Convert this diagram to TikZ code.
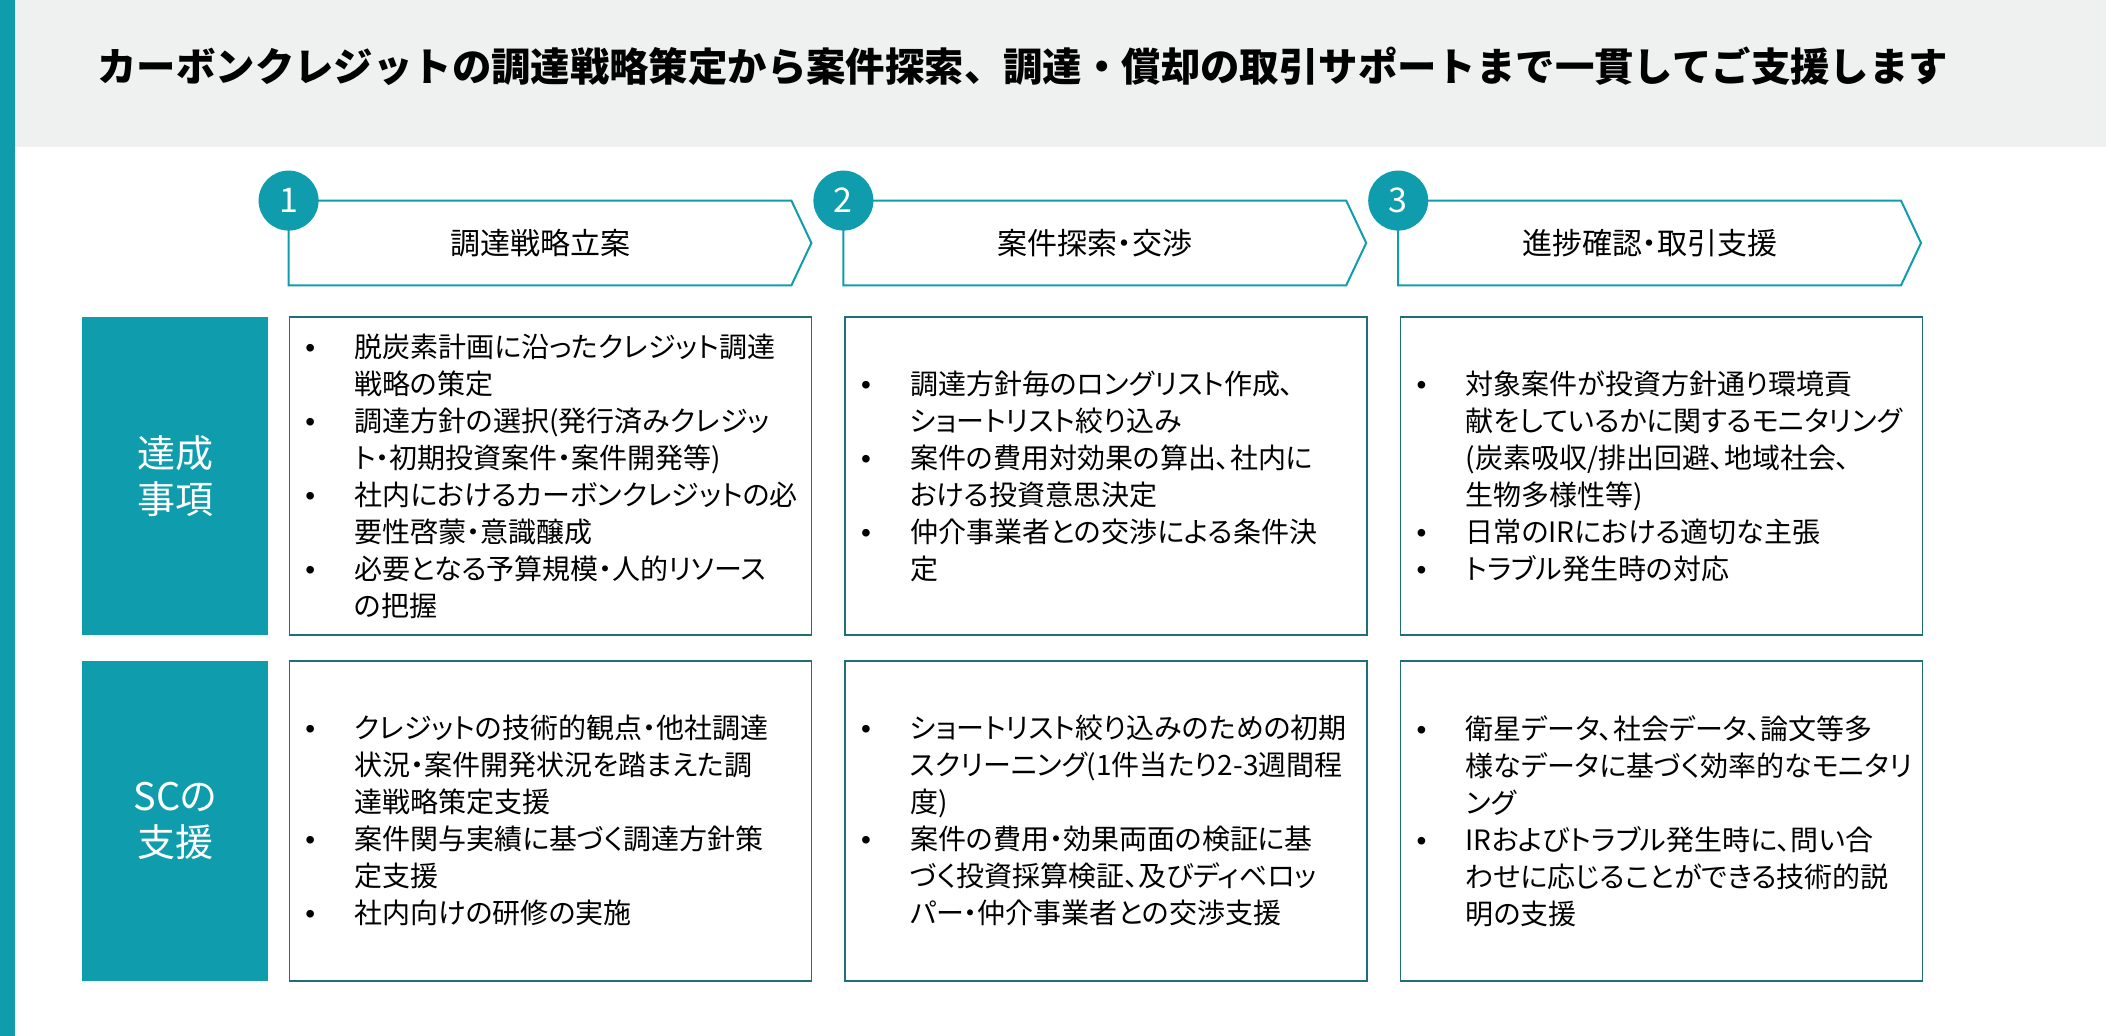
\documentclass[tikz,border=0pt]{standalone}
\usepackage{fontspec}
\setmainfont{Noto Sans CJK JP}[RawFeature=+palt]
\newfontfamily\titlefont{Noto Sans CJK JP}
\newfontfamily\bulletfont{Liberation Sans}
\usetikzlibrary{positioning, calc}
\definecolor{scteal}{HTML}{0F9DAE}
\definecolor{scline}{HTML}{1F6F78}
\definecolor{headgray}{HTML}{EFF1F0}
\newcommand\bulletline[1]{{\let\\\newline\noindent\hangindent=24.5pt\hangafter=1%
  \makebox[24.5pt][l]{\bulletfont •}#1\par}}

\begin{document}
\begin{tikzpicture}[
  x=0.5pt, y=-0.5pt,
  stage/.style={rectangle, inner sep=0pt, minimum width=251pt, minimum height=42pt,
                font=\fontsize{15pt}{18pt}\selectfont},
  stageline/.style={draw=scteal, line width=1pt, line join=miter},
  num/.style={circle, fill=scteal, inner sep=0pt, minimum size=30pt, text=white,
              font=\fontsize{17pt}{20pt}\selectfont},
  cbox/.style={rectangle, draw=scline, line width=0.8pt, minimum width=261pt,
               minimum height=159pt, text width=245pt, inner xsep=8pt,
               font=\fontsize{14pt}{18.5pt}\selectfont},
  rowlabel/.style={rectangle, fill=scteal, text=white, align=center, minimum width=93pt,
                   font=\fontsize{19pt}{23pt}\selectfont}
]
\useasboundingbox (0,0) rectangle (2106,1036);
\fill[headgray] (15,0) rectangle (2106,147);
\fill[scteal] (0,0) rectangle (15,1036);
\node[anchor=west, inner sep=0pt, font=\titlefont\bfseries\fontsize{19.7pt}{24pt}\selectfont] (title) at (97,66)
  {カーボンクレジットの調達戦略策定から案件探索、調達・償却の取引サポートまで一貫してご支援します};

% steps
\node[stage] (s1) at (540,243) {調達戦略立案};
\node[stage, right=26pt of s1] (s2) {案件探索・交渉};
\node[stage, right=26pt of s2] (s3) {進捗確認・取引支援};
\foreach \s in {s1,s2,s3}
  \draw[stageline] (\s.north west) -- (\s.north east) -- ($(\s.east)+(20,0)$)
    -- (\s.south east) -- (\s.south west) -- cycle;
\node[num] (n1) at (s1.north west) {1};
\node[num] (n2) at (s2.north west) {2};
\node[num] (n3) at (s3.north west) {3};

% row 1
\node[cbox, anchor=north west] (a1) at ([yshift=-15.5pt]s1.south west) {%
  \bulletline{脱炭素計画に沿ったクレジット調達\\戦略の策定}
  \bulletline{調達方針の選択(発行済みクレジッ\\ト・初期投資案件・案件開発等)}
  \bulletline{社内におけるカーボンクレジットの必\\要性啓蒙・意識醸成}
  \bulletline{必要となる予算規模・人的リソース\\の把握}};
\node[cbox, right=16pt of a1] (a2) {%
  \bulletline{調達方針毎のロングリスト作成、\\ショートリスト絞り込み}
  \bulletline{案件の費用対効果の算出、社内に\\おける投資意思決定}
  \bulletline{仲介事業者との交渉による条件決\\定}};
\node[cbox, right=16pt of a2] (a3) {%
  \bulletline{対象案件が投資方針通り環境貢\\献をしているかに関するモニタリング\\(炭素吸収/排出回避、地域社会、\\生物多様性等)}
  \bulletline{日常のIRにおける適切な主張}
  \bulletline{トラブル発生時の対応}};

% row 2
\node[cbox, minimum height=160pt, below=12pt of a1] (b1) {%
  \bulletline{クレジットの技術的観点・他社調達\\状況・案件開発状況を踏まえた調\\達戦略策定支援}
  \bulletline{案件関与実績に基づく調達方針策\\定支援}
  \bulletline{社内向けの研修の実施}};
\node[cbox, minimum height=160pt, right=16pt of b1] (b2) {%
  \bulletline{ショートリスト絞り込みのための初期\\スクリーニング(1件当たり2-3週間程\\度)}
  \bulletline{案件の費用・効果両面の検証に基\\づく投資採算検証、及びディベロッ\\パー・仲介事業者との交渉支援}};
\node[cbox, minimum height=160pt, right=16pt of b2] (b3) {%
  \bulletline{衛星データ、社会データ、論文等多\\様なデータに基づく効率的なモニタリ\\ング}
  \bulletline{IRおよびトラブル発生時に、問い合\\わせに応じることができる技術的説\\明の支援}};

\node[rowlabel, minimum height=159pt, left=10pt of a1] (l1) {達成\\事項};
\node[rowlabel, minimum height=160pt, left=10pt of b1] (l2) {SCの\\支援};
\end{tikzpicture}
\end{document}
